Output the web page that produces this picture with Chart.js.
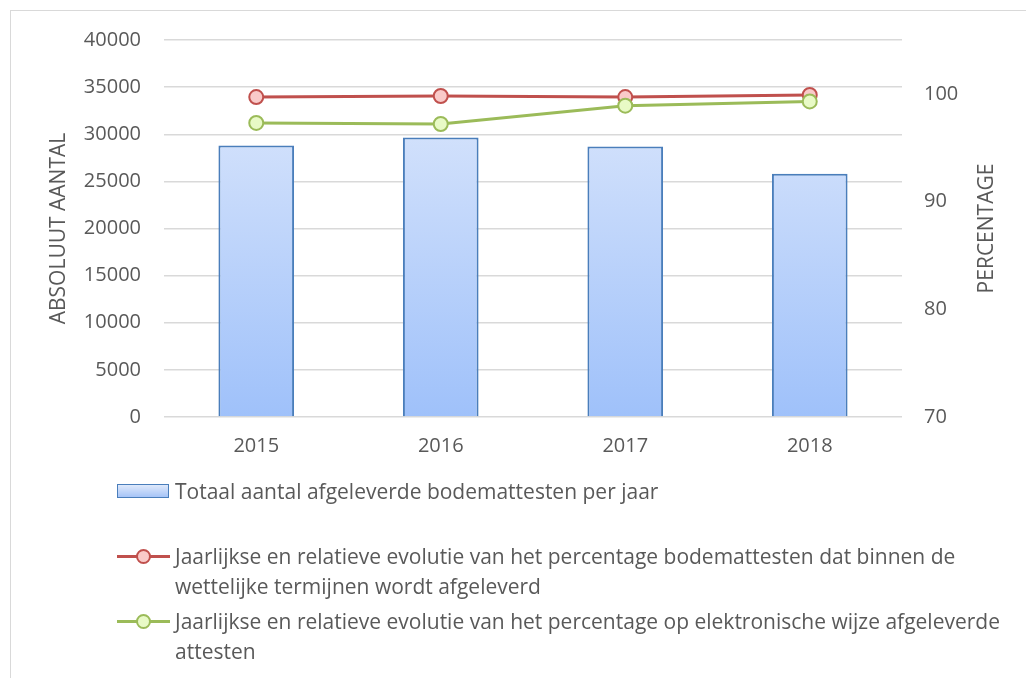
<!DOCTYPE html>
<html>
<head>
<meta charset="utf-8">
<script src="https://cdn.jsdelivr.net/npm/chart.js@4"></script>
<style>
  html, body { margin: 0; padding: 0; background: #fff; }
  body { width: 1026px; height: 678px; position: relative; overflow: hidden; font-family: 'Open Sans', Lato, sans-serif; }
  .frame { position: absolute; left: 10px; top: 10px; width: 1040px; height: 700px; border: 1px solid #d9d9d9; }
  .chart-box { position: absolute; left: 0; top: 0; width: 1026px; height: 480px; }
  #legend { position: absolute; left: 117px; top: 476px; width: 900px; }
  .item { position: relative; padding-left: 58px; font-size: 21px; line-height: 30px; color: #595959; width: 835px; }
  .sw-bar { position: absolute; left: 0; top: 8px; width: 50px; height: 12px; border: 1px solid #4a7ebb;
            background: linear-gradient(#dfe9fb, #a6c4f7); }
  .sw-line { position: absolute; left: 0; top: 14px; width: 53px; height: 3px; }
  .sw-dot { position: absolute; left: 19px; top: 8px; width: 11px; height: 11px; border-radius: 50%; border: 2px solid; }
</style>
</head>
<body>
<div class="frame"></div>
<div class="chart-box"><canvas id="chart"></canvas></div>
<div id="legend"></div>
<script>
// Data
const years = ['2015', '2016', '2017', '2018'];
const totalAttesten = [28800, 29650, 28700, 25800];
const pctOnTime = [99.7, 99.8, 99.7, 99.9];
const pctElectronic = [97.3, 97.2, 98.9, 99.3];

const labelTotal = 'Totaal aantal afgeleverde bodemattesten per jaar';
const labelOnTime = 'Jaarlijkse en relatieve evolutie van het percentage bodemattesten dat binnen de wettelijke termijnen wordt afgeleverd';
const labelElectronic = 'Jaarlijkse en relatieve evolutie van het percentage op elektronische wijze afgeleverde attesten';

const grey = '#595959';
const font = { family: "'Open Sans', Lato, sans-serif", size: 20 };

// Bar fill: light at the top, darker blue at the base
function barGradient(context) {
  const area = context.chart.chartArea;
  if (!area) return '#c5d8fa';
  const g = context.chart.ctx.createLinearGradient(0, area.top, 0, area.bottom);
  g.addColorStop(0, '#e2ebfc');
  g.addColorStop(1, '#9fc1fa');
  return g;
}

// Axis titles, both read bottom-to-top
const axisTitles = {
  id: 'axisTitles',
  afterDraw(chart) {
    const ctx = chart.ctx;
    const midY = (chart.chartArea.top + chart.chartArea.bottom) / 2;
    ctx.save();
    ctx.fillStyle = grey;
    ctx.font = "21px 'Open Sans', Lato, sans-serif";
    ctx.textAlign = 'center';
    ctx.textBaseline = 'middle';
    [[59, 'ABSOLUUT AANTAL'], [987, 'PERCENTAGE']].forEach(([x, txt]) => {
      ctx.save();
      ctx.translate(x, midY);
      ctx.rotate(-Math.PI / 2);
      ctx.fillText(txt, 0, 0);
      ctx.restore();
    });
    ctx.restore();
  }
};

const chart = new Chart(document.getElementById('chart'), {
  data: {
    labels: years,
    datasets: [
      {
        type: 'line',
        label: labelElectronic,
        data: pctElectronic,
        yAxisID: 'y1',
        order: 0,
        borderColor: '#9bbb59',
        borderWidth: 3,
        pointRadius: 7,
        pointBorderWidth: 2,
        pointBackgroundColor: '#e8fac6',
        pointBorderColor: '#9bbb59',
        tension: 0
      },
      {
        type: 'line',
        label: labelOnTime,
        data: pctOnTime,
        yAxisID: 'y1',
        order: 1,
        borderColor: '#c0504d',
        borderWidth: 3,
        pointRadius: 7,
        pointBorderWidth: 2,
        pointBackgroundColor: '#f9cac9',
        pointBorderColor: '#c0504d',
        tension: 0
      },
      {
        type: 'bar',
        label: labelTotal,
        data: totalAttesten,
        yAxisID: 'y',
        order: 2,
        backgroundColor: barGradient,
        borderColor: '#4a7ebb',
        borderWidth: 2,
        categoryPercentage: 1,
        barPercentage: 0.41
      }
    ]
  },
  options: {
    responsive: true,
    maintainAspectRatio: false,
    animation: false,
    layout: { padding: { top: 40, bottom: 13, left: 0, right: 0 } },
    plugins: {
      legend: { display: false },
      tooltip: { enabled: false }
    },
    scales: {
      x: {
        grid: { display: false, drawTicks: false },
        border: { display: false },
        ticks: { color: grey, font: font, padding: 17 },
        afterFit(s) { s.height = 50; }
      },
      y: {
        position: 'left',
        min: 0,
        max: 40000,
        ticks: { stepSize: 5000, color: grey, font: font, padding: 23, callback: v => String(v) },
        grid: { color: '#d9d9d9', lineWidth: 1.5, drawTicks: false },
        border: { display: false },
        afterFit(s) { s.width = 164; }
      },
      y1: {
        position: 'right',
        min: 70,
        max: 105,
        ticks: { stepSize: 10, color: grey, font: font, padding: 22, callback: v => String(v) },
        afterBuildTicks(s) { s.ticks = s.ticks.filter(t => t.value % 10 === 0); },
        grid: { drawOnChartArea: false, drawTicks: false },
        border: { display: false },
        afterFit(s) { s.width = 124; }
      }
    }
  },
  plugins: [axisTitles]
});

// HTML legend built from the chart's datasets, in the reference order
const legend = document.getElementById('legend');
const legendOrder = [2, 1, 0];
const gaps = [0, 35, 5];
legendOrder.forEach((i, n) => {
  const ds = chart.data.datasets[i];
  const item = legend.appendChild(document.createElement('div'));
  item.className = 'item';
  item.style.marginTop = gaps[n] + 'px';
  if (ds.type === 'bar') {
    item.innerHTML = '<span class="sw-bar"></span>';
  } else {
    item.innerHTML = '<span class="sw-line" style="background:' + ds.borderColor + '"></span>' +
      '<span class="sw-dot" style="border-color:' + ds.borderColor + ';background:' + ds.pointBackgroundColor + '"></span>';
  }
  item.appendChild(document.createTextNode(ds.label));
});
</script>
</body>
</html>
